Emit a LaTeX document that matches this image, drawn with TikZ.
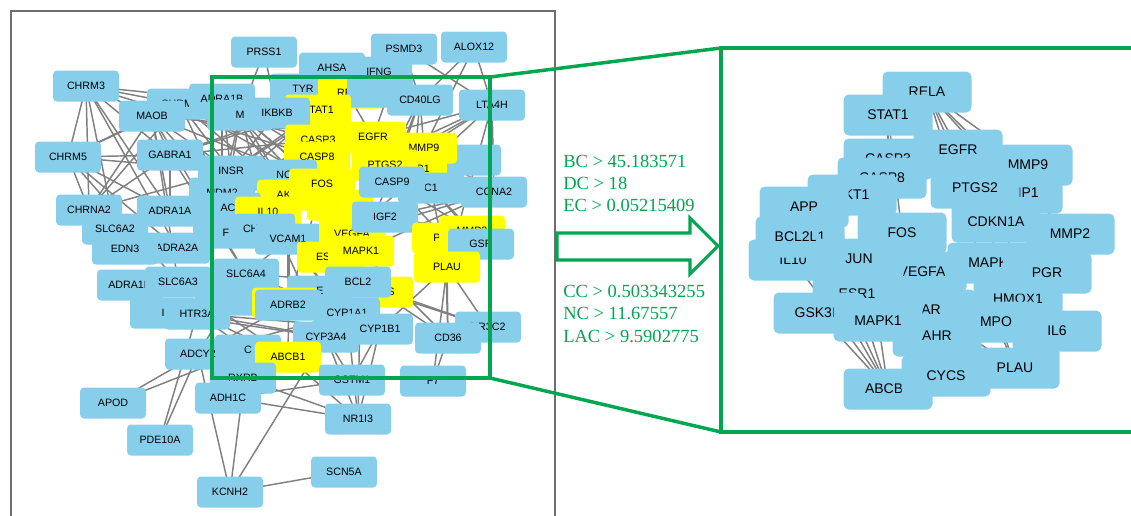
\documentclass[tikz,border=0pt]{standalone}
\usepackage{fontspec}
\setmainfont{Liberation Serif}
\newfontfamily\arialf{Liberation Sans}
\pgfdeclarelayer{edgelayer}
\pgfsetlayers{edgelayer,main}
\definecolor{nodeblue}{RGB}{135,206,235}
\definecolor{hubyellow}{RGB}{255,255,0}
\definecolor{edgegray}{RGB}{128,128,128}
\definecolor{framegray}{RGB}{110,110,110}
\definecolor{grn}{RGB}{0,166,80}
\tikzset{
 bn/.style={fill=nodeblue, rounded corners=3pt, minimum width=49.5pt, minimum height=23.25pt, inner sep=0pt, font=\arialf\fontsize{8}{9}\selectfont},
 yn/.style={bn, fill=hubyellow},
 rn/.style={fill=nodeblue, rounded corners=4pt, minimum width=66.75pt, minimum height=30.75pt, inner sep=0pt, font=\arialf\fontsize{10.5}{12}\selectfont},
 lnk/.style={draw=edgegray, line width=1.1pt},
 gline/.style={draw=grn, line width=2.6pt},
 gtext/.style={text=grn, font=\fontsize{13.9}{16}\selectfont, anchor=base west, inner sep=0pt},
}
\begin{document}
\begin{tikzpicture}[x=0.75pt,y=-0.75pt]
\useasboundingbox (0,0) rectangle (1131,515);
% ---------- left network ----------
\node[bn] (prss1) at (264,52) {PRSS1};
\node[bn] (psmd3) at (404,49) {PSMD3};
\node[bn] (alox12) at (474,47) {ALOX12};
\node[bn] (ahsa) at (332,68) {AHSA};
\node[bn] (ifng) at (379,72) {IFNG};
\node[bn] (chrm3) at (86,86) {CHRM3};
\node[bn] (chrm1) at (180,104) {CHRM1};
\node[bn] (maob) at (152,116) {MAOB};
\node[bn] (chrm5) at (68,157) {CHRM5};
\node[bn] (gabra1) at (170,155) {GABRA1};
\node[bn] (adra1b) at (222,99) {ADRA1B};
\node[bn] (tyr) at (303,89) {TYR};
\node[bn] (lta4h) at (492,105) {LTA4H};
\node[yn] (rela) at (351,93) {RELA};
\node[bn] (fill1) at (380,92) {};
\node[bn] (cd40lg) at (420,100) {CD40LG};
\node[yn] (stat1) at (318,110) {STAT1};
\node[bn] (mn) at (240,115) {M};
\node[bn] (ikbkb) at (277,113) {IKBKB};
\node[yn] (egfr) at (373,137) {EGFR};
\node[yn] (casp3) at (318,140) {CASP3};
\node[yn] (casp8) at (317,157) {CASP8};
\node[bn] (fill2) at (468,160) {};
\node[yn] (mmp9) at (424,148) {MMP9};
\node[yn] (timp1) at (414,169) {TIMP1};
\node[yn] (ptgs2) at (385,165) {PTGS2};
\node[bn] (insr) at (231,171) {INSR};
\node[bn] (ncn) at (284,175) {NC};
\node[yn] (akt1) at (290,195) {AKT1};
\node[yn] (fos) at (322,184) {FOS};
\node[yn] (fill3) at (340,205) {};
\node[bn] (mdm2) at (222,193) {MDM2};
\node[bn] (acn) at (228,208) {AC};
\node[yn] (il10) at (268,212) {IL10};
\node[bn] (fn) at (226,233) {F};
\node[bn] (chrm2) at (262,229) {CHRM2};
\node[bn] (vcam1) at (288,239) {VCAM1};
\node[yn] (vegfa) at (352,234) {VEGFA};
\node[bn] (c1n) at (431,188) {C1};
\node[bn] (casp9) at (392,182) {CASP9};
\node[bn] (igf2) at (385,217) {IGF2};
\node[bn] (ccna2) at (494,192) {CCNA2};
\node[yn] (pgr) at (445,238) {PGR};
\node[yn] (mmp2) at (472,231) {MMP2};
\node[bn] (gsr) at (481,244) {GSR};
\node[yn] (esr1) at (330,257) {ESR1};
\node[yn] (mapk1) at (361,251) {MAPK1};
\node[yn] (plau) at (447,267) {PLAU};
\node[bn] (slc6a4) at (246,274) {SLC6A4};
\node[bn] (fill4) at (228,300) {};
\node[yn] (cycs) at (380,292) {CYCS};
\node[bn] (en) at (320,291) {E};
\node[bn] (bcl2) at (358,282) {BCL2};
\node[yn] (ar) at (285,303) {};
\node[bn] (adrb2) at (288,305) {ADRB2};
\node[bn] (cyp1a1) at (347,313) {CYP1A1};
\node[bn] (cyp3a4) at (326,337) {CYP3A4};
\node[bn] (cyp1b1) at (380,329) {CYP1B1};
\node[bn] (nr3c2) at (488,327) {NR3C2};
\node[bn] (cd36) at (448,338) {CD36};
\node[bn] (cn) at (248,350) {C};
\node[yn] (abcb1) at (288,357) {ABCB1};
\node[bn] (rxrb) at (243,378) {RXRB};
\node[bn] (gstm1) at (352,380) {GSTM1};
\node[bn] (f7) at (433,381) {F7};
\node[bn] (adh1c) at (228,398) {ADH1C};
\node[bn] (nr1i3) at (358,419) {NR1I3};
\node[bn] (scn5a) at (344,472) {SCN5A};
\node[bn] (kcnh2) at (230,492) {KCNH2};
\node[bn] (apod) at (113,403) {APOD};
\node[bn] (pde10a) at (160,440) {PDE10A};
\node[bn] (chrna2) at (89,210) {CHRNA2};
\node[bn] (adra1a) at (170,211) {ADRA1A};
\node[bn] (slc6a2) at (115,229) {SLC6A2};
\node[bn] (adra2a) at (177,248) {ADRA2A};
\node[bn] (edn3) at (125,249) {EDN3};
\node[bn] (adra1d) at (130,285) {ADRA1D};
\node[bn] (slc6a3) at (178,282) {SLC6A3};
\node[bn] (inode) at (163,313) {I};
\node[bn] (htr3a) at (197,314) {HTR3A};
\node[bn] (adcy2) at (198,354) {ADCY2};
\begin{pgfonlayer}{edgelayer}
\foreach \a/\b in {chrm3/chrm5, chrm3/chrna2, chrm3/adra1a, chrm3/slc6a2, chrm3/chrm1, chrm3/maob, chrm3/gabra1, chrm3/adra2a,
 chrm5/gabra1, chrm5/adra1a, chrm5/chrna2, chrm5/adra2a, chrm5/chrm1, chrm5/insr, chrm5/maob, chrm5/slc6a3,
 chrna2/gabra1, chrna2/maob, chrna2/chrm1, chrna2/insr, gabra1/adra1a, gabra1/maob, gabra1/slc6a4, gabra1/insr,
 maob/adra1a, maob/slc6a3, maob/insr, maob/mdm2, maob/slc6a4, chrm1/insr, chrm1/mdm2, chrm1/fos, chrm1/stat1, chrm1/casp3,
 adra1b/insr, adra1b/casp8, adra1b/akt1, adra1b/fos, adra1b/mdm2, ikbkb/rela, ikbkb/casp3, ikbkb/casp8, ikbkb/fos, ikbkb/insr,
 mn/insr, mn/il10, mn/mdm2, prss1/ikbkb, prss1/mn, ahsa/stat1, ahsa/egfr, ahsa/tyr, ifng/cd40lg, ifng/stat1,
 psmd3/cd40lg, psmd3/lta4h, psmd3/egfr, alox12/lta4h, alox12/cd40lg, alox12/mmp9,
 lta4h/mmp9, lta4h/ptgs2, lta4h/egfr, lta4h/ccna2, lta4h/fos, lta4h/vegfa, lta4h/plau, cd40lg/mmp9, cd40lg/ptgs2, cd40lg/casp9,
 cd40lg/timp1, cd40lg/mapk1, ccna2/mmp9, ccna2/casp9, ccna2/igf2, ccna2/c1n, ccna2/vegfa, ccna2/mapk1, c1n/igf2, c1n/plau, c1n/mmp2,
 casp9/mmp2, casp9/pgr, igf2/mmp2, igf2/gsr, timp1/gsr,
 vcam1/bcl2, vcam1/esr1, vcam1/slc6a4, vcam1/mapk1, vcam1/adrb2, vcam1/cyp1a1, slc6a4/bcl2, slc6a4/cyp1a1,
 il10/cyp3a4, fos/adrb2, akt1/abcb1, insr/cyp1a1, mdm2/bcl2, gabra1/stat1, gabra1/casp3, insr/stat1, mdm2/stat1, mdm2/casp3, insr/rela,
 gabra1/rela, chrm1/egfr, maob/egfr, maob/fos, adra1b/vegfa, chrm3/casp8, chrm3/stat1, mn/fos, mn/akt1, chrm1/akt1,
 plau/nr3c2, plau/cd36, cycs/nr3c2, cycs/cd36, bcl2/nr3c2, mapk1/cd36, pgr/cd36, cyp1b1/plau,
 adrb2/slc6a4, adrb2/htr3a, adrb2/adcy2, cn/adcy2, cn/htr3a, slc6a4/htr3a, slc6a4/adcy2, abcb1/htr3a, abcb1/slc6a3,
 htr3a/cyp1b1, adcy2/cyp1a1, inode/cyp3a4, slc6a3/cyp1b1, htr3a/cyp3a4, htr3a/bcl2,
 abcb1/nr1i3, abcb1/gstm1, cyp3a4/nr1i3, cyp1a1/nr1i3, cyp1b1/nr1i3, cyp3a4/gstm1, cyp1b1/gstm1, mapk1/nr1i3,
 cd36/f7, plau/f7, kcnh2/adcy2, kcnh2/cn, kcnh2/cyp3a4, kcnh2/scn5a, apod/adcy2, apod/cn, pde10a/adcy2, pde10a/htr3a,
 adh1c/gstm1, adh1c/abcb1, rxrb/nr1i3, adh1c/nr1i3, gstm1/abcb1}
 \draw[lnk] (\a.center) -- (\b.center);
\end{pgfonlayer}
% ---------- right network ----------
\node[rn] (rrela) at (927,92) {RELA};
\node[rn] (rstat1) at (888,115) {STAT1};
\node[rn] (rtimp1) at (1018,193) {TIMP1};
\node[rn] (rmmp9) at (1028,165) {MMP9};
\node[rn] (rcasp3) at (888,159) {CASP3};
\node[rn] (regfr) at (958,150) {EGFR};
\node[rn] (rcasp8) at (882,178) {CASP8};
\node[rn] (rptgs2) at (975,188) {PTGS2};
\node[rn] (rakt1) at (852,195) {AKT1};
\node[rn] (rapp) at (804,207) {APP};
\node[rn] (rmmp2) at (1070,234) {MMP2};
\node[rn] (rcdkn1a) at (996,222) {CDKN1A};
\node[rn] (ril10) at (793,260) {IL10};
\node[rn] (rbcl2l1) at (800,237) {BCL2L1};
\node[rn] (rfos) at (902,233) {FOS};
\node[rn] (rhmox1) at (1018,299) {HMOX1};
\node[rn] (rmapk3) at (992,263) {MAPK3};
\node[rn] (rpgr) at (1047,273) {PGR};
\node[rn] (rvegfa) at (922,272) {VEGFA};
\node[rn] (rjun) at (859,259) {JUN};
\node[rn] (resr1) at (857,294) {ESR1};
\node[rn] (rar) at (931,310) {AR};
\node[rn] (rahr) at (937,336) {AHR};
\node[rn] (rgsk3b) at (818,313) {GSK3B};
\node[rn] (rmapk1) at (878,321) {MAPK1};
\node[rn] (rmpo) at (996,322) {MPO};
\node[rn] (ril6) at (1057,331) {IL6};
\node[rn] (rabcb1) at (888,389) {ABCB1};
\node[rn] (rplau) at (1015,368) {PLAU};
\node[rn] (rcycs) at (946,376) {CYCS};
\begin{pgfonlayer}{edgelayer}
\foreach \a/\b in {rrela/rmmp9, rrela/rtimp1, rrela/rmmp2, rrela/ril6, rrela/rhmox1, rrela/rplau, rstat1/rcasp3, rstat1/rfos,
 rabcb1/rgsk3b, rabcb1/ril10, rabcb1/rbcl2l1, rabcb1/rapp, rabcb1/resr1, rabcb1/rmapk1, rmpo/rplau, rahr/rplau, rar/rplau}
 \draw[lnk] (\a.center) -- (\b.center);
\end{pgfonlayer}
% ---------- frame, zoom box, labels ----------
\draw[framegray, line width=2.2pt] (11,520) -- (11,11) -- (555,11) -- (555,520);
\coordinate (zt) at (490,77);
\coordinate (zb) at (490,378);
\coordinate (bt) at (721,48);
\coordinate (bb) at (721,432);
\draw[gline] (212,77) rectangle (490,378);
\draw[gline] (721,48) rectangle (1140,432);
\draw[gline] (zt) -- (bt);
\draw[gline] (zb) -- (bb);
\node[gtext] (bc) at (563,167) {BC > 45.183571};
\node[gtext] (dc) at (563,189) {DC > 18};
\node[gtext] (ec) at (563,211) {EC > 0.05215409};
\node[gtext] (cc) at (563,297) {CC > 0.503343255};
\node[gtext] (nc) at (563,319) {NC > 11.67557};
\node[gtext] (lac) at (563,342) {LAC > 9.5902775};
\draw[grn, line width=2.3pt, line join=miter] (557,233) -- (690,233) -- (690,218) -- (718,246) -- (690,274) -- (690,260) -- (557,260) -- cycle;
\end{tikzpicture}
\end{document}
